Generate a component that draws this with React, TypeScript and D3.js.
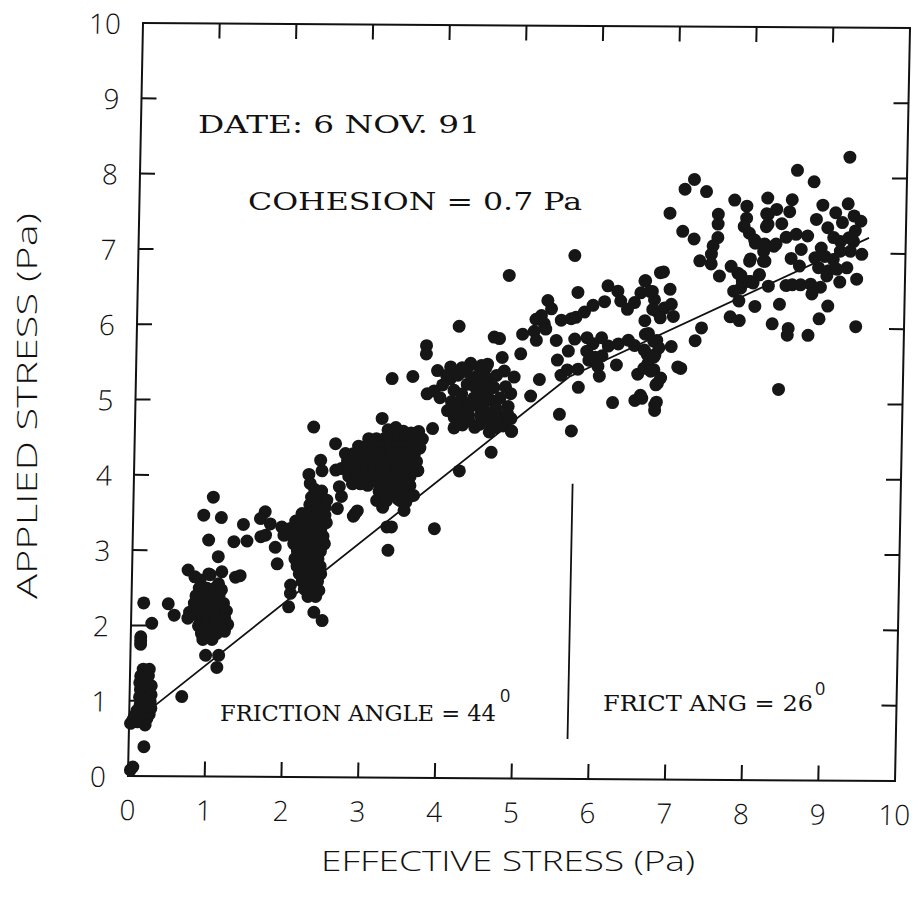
import React from "react";
import * as d3 from "d3";

type P = [number, number];

const xTicks = [0, 1, 2, 3, 4, 5, 6, 7, 8, 9, 10];
const yTicks = [0, 1, 2, 3, 4, 5, 6, 7, 8, 9, 10];

const originPts: P[] = [[0.03, 0.08], [0.06, 0.12], [0.2, 0.39], [0.02, 0.7]];

const clusterA: P[] = [
  [0.17, 1.42], [0.25, 1.42], [0.14, 1.33], [0.24, 1.33], [0.13, 1.24], [0.22, 1.25], [0.28, 1.2],
  [0.14, 1.15], [0.22, 1.13], [0.28, 1.08], [0.13, 1.05], [0.2, 1.02], [0.27, 0.99], [0.14, 0.95],
  [0.22, 0.93], [0.28, 0.9], [0.1, 0.87], [0.18, 0.85], [0.26, 0.82], [0.07, 0.8], [0.15, 0.78],
  [0.23, 0.76], [0.05, 0.75], [0.21, 0.68], [0.11, 0.72],
];

const sparseLow: P[] = [
  [0.68, 1.06], [0.13, 1.75], [0.13, 1.85], [0.13, 1.8], [0.27, 2.03], [0.16, 2.3], [0.48, 2.29],
  [0.56, 2.14], [0.73, 2.74], [0.82, 2.65], [0.98, 1.61], [1.15, 1.61], [1.13, 1.45], [1.0, 2.69],
  [1.17, 2.72], [1.35, 2.65], [1.41, 2.67], [1.04, 3.71], [0.92, 3.47], [1.15, 3.44], [1.44, 3.35],
  [0.99, 3.14], [1.32, 3.12], [1.49, 3.13], [1.12, 2.92], [2.07, 2.55], [2.07, 2.44], [2.05, 2.26],
  [2.38, 2.19], [2.49, 2.08],
];

const clusterB: P[] = [
  [0.89, 2.61], [1.02, 2.68], [1.13, 2.56],
  [0.88, 2.5], [0.98, 2.5], [1.08, 2.5], [1.17, 2.48],
  [0.84, 2.4], [0.94, 2.4], [1.04, 2.4], [1.14, 2.4],
  [0.82, 2.3], [0.92, 2.3], [1.02, 2.3], [1.12, 2.3], [1.2, 2.3],
  [0.76, 2.18], [0.86, 2.2], [0.96, 2.2], [1.06, 2.2], [1.16, 2.2], [1.24, 2.2],
  [0.74, 2.1], [0.9, 2.1], [1.0, 2.1], [1.1, 2.1], [1.22, 2.1],
  [0.88, 2.0], [0.98, 2.0], [1.08, 2.0], [1.18, 2.0], [1.26, 2.02],
  [0.92, 1.9], [1.02, 1.9], [1.12, 1.9], [1.22, 1.93],
  [0.94, 1.82], [1.06, 1.82],
];

const clusterC: P[] = [
  [1.72, 3.52], [1.66, 3.43], [1.79, 3.36], [1.94, 3.32], [1.97, 3.21], [1.67, 3.19], [1.73, 3.21],
  [1.86, 3.05], [1.89, 2.83],
  [2.33, 4.65], [2.62, 4.43], [2.43, 4.21], [2.45, 4.07], [2.28, 4.02], [2.3, 3.9], [2.66, 3.57],
  [2.89, 3.5], [2.92, 3.54], [2.87, 3.47], [2.63, 4.08], [2.68, 3.86], [2.71, 3.73],
  [2.36, 3.82], [2.45, 3.8], [2.32, 3.72], [2.42, 3.7], [2.52, 3.68], [2.3, 3.62], [2.4, 3.6], [2.5, 3.58],
  [2.2, 3.5], [2.3, 3.5], [2.4, 3.5], [2.5, 3.48],
  [2.12, 3.4], [2.22, 3.4], [2.32, 3.4], [2.42, 3.4], [2.52, 3.38],
  [2.05, 3.3], [2.15, 3.3], [2.25, 3.3], [2.35, 3.3], [2.45, 3.3],
  [2.08, 3.2], [2.18, 3.2], [2.28, 3.2], [2.38, 3.2], [2.48, 3.2],
  [2.1, 3.1], [2.2, 3.1], [2.3, 3.1], [2.4, 3.1], [2.5, 3.1],
  [2.15, 3.0], [2.25, 3.0], [2.35, 3.0], [2.45, 3.0],
  [2.12, 2.9], [2.22, 2.9], [2.32, 2.9], [2.42, 2.9],
  [2.15, 2.8], [2.25, 2.8], [2.35, 2.8], [2.45, 2.8],
  [2.18, 2.7], [2.28, 2.7], [2.38, 2.7], [2.46, 2.7],
  [2.22, 2.6], [2.32, 2.6], [2.42, 2.6],
  [2.25, 2.5], [2.35, 2.5], [2.44, 2.48],
  [2.3, 2.4], [2.4, 2.4],
];

const sparseMid: P[] = [
  [3.93, 3.31], [3.33, 3.02], [3.31, 3.33], [3.37, 3.33], [4.24, 4.08], [4.65, 4.33], [3.22, 4.77],
  [3.34, 5.3], [3.61, 5.33], [3.78, 5.74], [3.78, 5.63], [4.2, 6.0], [4.84, 6.68], [5.69, 6.95],
  [5.74, 6.46], [3.48, 3.68], [3.53, 3.55], [3.17, 3.68], [3.25, 3.59],
];

const clusterD: P[] = [
  [3.3, 4.62], [3.4, 4.65], [3.5, 4.6], [3.6, 4.58], [3.7, 4.6], [3.88, 4.64],
  [3.05, 4.5], [3.15, 4.5], [3.25, 4.5], [3.35, 4.5], [3.45, 4.5], [3.55, 4.5], [3.65, 4.5], [3.75, 4.5],
  [2.92, 4.4], [3.02, 4.4], [3.12, 4.4], [3.22, 4.4], [3.32, 4.4], [3.42, 4.4], [3.52, 4.4], [3.62, 4.4], [3.72, 4.38],
  [2.75, 4.3], [2.85, 4.3], [2.95, 4.3], [3.05, 4.3], [3.15, 4.3], [3.25, 4.3], [3.35, 4.3], [3.45, 4.3], [3.55, 4.3], [3.65, 4.3],
  [2.78, 4.2], [2.88, 4.2], [2.98, 4.2], [3.08, 4.2], [3.18, 4.2], [3.28, 4.2], [3.38, 4.2], [3.48, 4.2], [3.58, 4.2], [3.68, 4.2],
  [2.7, 4.1], [2.8, 4.1], [2.92, 4.1], [3.02, 4.1], [3.12, 4.1], [3.22, 4.1], [3.32, 4.1], [3.42, 4.1], [3.52, 4.1], [3.62, 4.1], [3.7, 4.08],
  [2.8, 4.0], [2.9, 4.0], [3.0, 4.0], [3.1, 4.0], [3.2, 4.0], [3.3, 4.0], [3.4, 4.0], [3.5, 4.0], [3.6, 4.0],
  [2.85, 3.9], [2.95, 3.9], [3.05, 3.88], [3.2, 3.9], [3.3, 3.9], [3.4, 3.9], [3.5, 3.9], [3.6, 3.88],
  [3.2, 3.8], [3.3, 3.78], [3.42, 3.8], [3.55, 3.78], [3.65, 3.75],
  [3.3, 3.68], [3.45, 3.7], [3.55, 3.66],
];

const clusterE: P[] = [
  [3.93, 5.41], [4.1, 5.46], [4.36, 5.51], [4.5, 5.48], [4.58, 5.5], [3.8, 5.1], [3.89, 5.14], [3.97, 5.05],
  [4.07, 4.88], [4.16, 4.79], [4.34, 4.83], [4.43, 4.66], [4.36, 5.49], [4.56, 5.45], [4.32, 5.23],
  [4.67, 5.19], [4.89, 5.11], [4.41, 5.05], [4.63, 5.02], [4.33, 4.88], [4.55, 4.88], [4.77, 4.8],
  [4.86, 4.94], [4.49, 4.7], [4.71, 4.66], [4.91, 4.61], [4.27, 4.69], [4.24, 5.0], [4.4, 5.32],
  [4.49, 5.41], [5.01, 5.64], [4.77, 5.59], [4.8, 5.41], [4.93, 5.33],
  [4.1, 5.3], [4.2, 5.35], [4.3, 5.4], [4.0, 5.22], [4.15, 5.15], [4.25, 5.1], [4.5, 5.25], [4.6, 5.3],
  [4.7, 5.35], [4.12, 5.0], [4.5, 5.12], [4.75, 5.05], [4.2, 4.9], [4.45, 4.95], [4.65, 4.85],
  [4.9, 4.78], [4.35, 4.75], [4.58, 4.75], [4.8, 4.68], [4.62, 4.6], [4.16, 4.65],
  [4.05, 5.35], [4.25, 5.45], [4.42, 5.2], [4.6, 5.15], [4.82, 5.2], [4.35, 4.98], [4.55, 5.0],
  [4.7, 4.92], [4.28, 4.82], [4.5, 4.82], [4.72, 4.75], [4.85, 4.85],
];

const upperMid: P[] = [
  [5.35, 6.35], [5.4, 6.24], [5.27, 6.15], [5.2, 6.1], [5.31, 6.04], [5.53, 6.09], [5.66, 6.11],
  [5.72, 6.13], [5.83, 6.2], [5.94, 6.29], [6.09, 6.34], [6.13, 6.55], [6.26, 6.48], [6.3, 6.35],
  [6.39, 6.24], [6.48, 6.33], [6.56, 6.46], [6.62, 6.62], [6.71, 6.48], [6.78, 6.21], [6.81, 6.73],
  [4.66, 5.86], [4.73, 5.84], [5.03, 5.9], [5.18, 5.94], [5.33, 5.97],
  [5.21, 5.82], [5.47, 5.82], [5.63, 5.68], [5.71, 5.84], [5.87, 5.86], [5.95, 5.78], [6.06, 5.86],
  [6.15, 5.75], [6.28, 5.78], [6.41, 5.83], [6.49, 5.76], [6.62, 5.7], [6.67, 5.92], [6.78, 5.83],
  [6.75, 5.61], [5.87, 5.68], [5.98, 5.6], [6.07, 5.62], [5.9, 5.56], [5.49, 5.56], [5.54, 5.36],
  [5.62, 5.43], [5.76, 5.44], [6.02, 5.48], [6.04, 5.35], [6.26, 5.5], [6.54, 5.38], [6.67, 5.52],
  [6.75, 5.44], [6.8, 5.26], [5.77, 5.2], [6.22, 5.0], [6.51, 5.03], [6.58, 5.1], [6.77, 4.97],
  [5.53, 4.84], [5.69, 4.62], [5.26, 5.3], [5.15, 5.08], [4.91, 4.61],
  [6.85, 6.74], [6.94, 6.51], [6.61, 6.62], [6.68, 6.48], [6.74, 6.37], [6.72, 6.24], [6.87, 6.26],
  [6.96, 6.31], [6.99, 6.15], [6.82, 6.13], [6.62, 6.09], [6.63, 5.91], [6.74, 5.82], [6.76, 5.64],
  [6.81, 5.73], [6.66, 5.64], [6.62, 5.46], [6.71, 5.42], [6.84, 5.33], [6.78, 5.24], [6.97, 5.75],
  [7.06, 5.48], [7.1, 5.46], [6.79, 5.01], [6.77, 4.9], [6.6, 5.06],
];

const upperHigh: P[] = [
  [6.92, 7.52], [7.09, 7.28], [7.24, 7.18], [7.55, 7.51], [7.55, 7.38], [7.55, 7.2], [7.49, 7.09],
  [7.47, 6.98], [7.32, 6.89], [7.47, 6.85], [7.58, 6.69], [7.92, 7.62], [7.92, 7.46], [7.89, 7.35],
  [7.96, 7.26], [8.04, 7.13], [8.17, 7.11], [8.28, 7.09], [8.15, 7.02], [8.17, 6.89], [8.2, 7.51],
  [8.2, 7.38], [8.31, 7.58], [7.97, 6.89], [8.1, 6.71], [7.99, 6.62], [7.86, 6.53], [7.77, 6.49],
  [7.73, 6.82], [7.82, 6.73], [7.88, 6.62], [8.22, 6.56], [7.84, 6.36], [8.05, 6.29], [7.73, 6.15],
  [7.85, 6.1], [8.28, 6.06], [7.36, 6.0], [7.28, 5.83], [8.37, 6.32], [8.38, 5.19],
  [7.11, 7.84], [7.23, 7.97], [7.39, 7.81], [7.76, 7.7],
  [9.25, 8.28], [8.57, 8.1], [8.79, 7.95], [8.19, 7.73], [8.51, 7.71], [8.91, 7.64], [9.24, 7.66],
  [8.18, 7.52], [8.48, 7.55], [8.38, 7.39], [8.18, 7.35], [8.83, 7.45], [8.98, 7.34], [9.08, 7.54],
  [9.17, 7.41], [9.32, 7.5], [9.41, 7.43], [9.34, 7.3], [9.26, 7.21], [9.15, 7.16], [9.06, 7.21],
  [9.32, 7.16], [9.43, 6.99], [9.28, 7.03], [9.15, 7.03], [9.24, 6.81], [8.9, 7.07], [8.82, 6.94],
  [8.95, 6.96], [9.06, 6.92], [8.87, 6.81], [9.0, 6.77], [9.11, 6.79], [8.98, 6.7], [9.37, 6.66],
  [9.15, 6.62], [9.37, 6.03], [9.0, 6.3], [8.89, 6.13], [8.75, 5.91], [8.49, 6.0], [8.48, 5.91],
  [8.45, 6.57], [8.53, 6.58], [8.64, 6.58], [8.77, 6.59], [8.79, 6.46], [8.9, 6.55], [8.62, 6.83],
  [8.51, 6.93], [8.64, 7.05], [8.57, 7.25], [8.72, 7.23], [8.44, 7.21], [8.31, 7.12], [8.16, 7.12],
  [8.03, 7.17], [7.98, 6.92], [8.15, 6.89], [8.1, 6.71], [7.96, 6.62], [8.02, 6.6], [7.86, 6.7],
];

const fitLine: P[] = [[0.25, 0.87], [5.65, 5.34], [9.52, 7.21]];
const dividerX = 5.72;
const dividerY = [0.53, 3.92];

const xTitle = "EFFECTIVE STRESS (Pa)";
const yTitle = "APPLIED STRESS (Pa)";
const dateText = "DATE: 6 NOV. 91";
const cohesionText = "COHESION = 0.7 Pa";
const leftAngleText = "FRICTION ANGLE = 44";
const rightAngleText = "FRICT ANG = 26";

export default function App() {
  const W = 767;
  const H = 753;
  const x = d3.scaleLinear().domain([0, 10]).range([0, W]);
  const y = d3.scaleLinear().domain([0, 10]).range([H, 0]);
  const pts: P[] = [
    ...originPts, ...clusterA, ...sparseLow, ...clusterB, ...clusterC, ...sparseMid,
    ...clusterD, ...clusterE, ...upperMid, ...upperHigh,
  ];
  const line = d3.line<P>().x((d) => x(d[0])).y((d) => y(d[1]));
  const sans = "'Open Sans', Lato, 'DejaVu Sans', sans-serif";
  const serif = "'DejaVu Serif', 'Liberation Serif', serif";
  const tickLen = 15;
  const inner = [1, 2, 3, 4, 5, 6, 7, 8, 9];
  return (
    <svg width={919} height={899} style={{ position: "absolute", left: 0, top: 0, background: "#fff" }}>
      <rect x={0} y={0} width={919} height={899} fill="#fff" />
      <g transform="matrix(1,0.00652,-0.01992,1,143,23)">
        <rect x={0} y={0} width={W} height={H} fill="none" stroke="#111" strokeWidth={2} />
        {inner.map((t) => (
          <g key={"t" + t} stroke="#111" strokeWidth={2}>
            <line x1={x(t)} x2={x(t)} y1={H} y2={H - tickLen} />
            <line x1={x(t)} x2={x(t)} y1={0} y2={tickLen} />
            <line x1={0} x2={tickLen} y1={y(t)} y2={y(t)} />
            <line x1={W} x2={W - tickLen} y1={y(t)} y2={y(t)} />
          </g>
        ))}
        {xTicks.map((t) => (
          <text key={"xl" + t} x={x(t)} y={H + 33} textAnchor="middle" dominantBaseline="central"
            fontFamily={sans} fontWeight={300} fontSize={28} fill="#111">{t}</text>
        ))}
        {yTicks.map((t) => (
          <text key={"yl" + t} x={-22} y={y(t)} textAnchor="end" dominantBaseline="central"
            fontFamily={sans} fontWeight={300} fontSize={28} fill="#111">{t}</text>
        ))}
        <path d={line(fitLine) || ""} fill="none" stroke="#111" strokeWidth={1.8} />
        <line x1={x(dividerX)} x2={x(dividerX)} y1={y(dividerY[0])} y2={y(dividerY[1])} stroke="#111" strokeWidth={1.8} />
        {pts.map((d, i) => (
          <circle key={i} cx={x(d[0])} cy={y(d[1])} r={6.5} fill="#161616" />
        ))}
      </g>
      <text x={198} y={133} fontFamily={serif} fontSize={25} textLength={282} lengthAdjust="spacingAndGlyphs" fill="#111">{dateText}</text>
      <text x={248} y={210} fontFamily={serif} fontSize={25} textLength={334} lengthAdjust="spacingAndGlyphs" fill="#111">{cohesionText}</text>
      <text x={220} y={721} fontFamily={serif} fontSize={23} textLength={276} lengthAdjust="spacingAndGlyphs" fill="#111">{leftAngleText}</text>
      <text x={500} y={702} fontFamily={sans} fontSize={18} fill="#111">0</text>
      <text x={603} y={711} fontFamily={serif} fontSize={22} textLength={210} lengthAdjust="spacingAndGlyphs" fill="#111">{rightAngleText}</text>
      <text x={815} y={695} fontFamily={sans} fontSize={18} fill="#111">0</text>
      <text x={508} y={860} textAnchor="middle" dominantBaseline="central" fontFamily={sans} fontWeight={300}
        fontSize={28} textLength={374} lengthAdjust="spacingAndGlyphs" fill="#111">{xTitle}</text>
      <text transform="translate(26,406) rotate(-90)" textAnchor="middle" dominantBaseline="central" fontFamily={sans}
        fontWeight={300} fontSize={28} textLength={386} lengthAdjust="spacingAndGlyphs" fill="#111">{yTitle}</text>
    </svg>
  );
}
